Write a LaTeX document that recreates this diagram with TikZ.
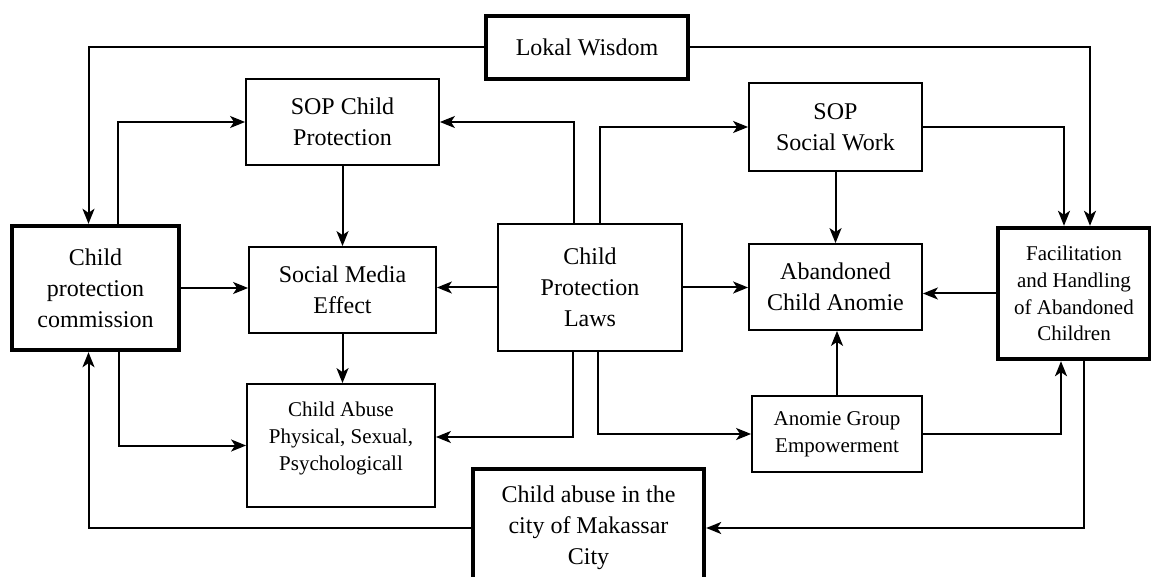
\documentclass[tikz,border=0pt]{standalone}
\usepackage{fontspec}
\setmainfont{Liberation Serif}
\usetikzlibrary{arrows.meta}

\begin{document}
\begin{tikzpicture}[x=0.5pt,y=-0.5pt,
    box/.style={draw,line width=0.9pt,align=center,inner sep=2pt,font=\fontsize{12}{15.5}\selectfont},
    boldbox/.style={box,line width=2.2pt},
    small/.style={font=\fontsize{10.5}{13.4}\selectfont},
    link/.style={line width=1pt,-{Stealth[length=7.5pt,width=6pt,inset=2pt]}}]
    \useasboundingbox (0,0) rectangle (1151,577);

    \node[boldbox, minimum width=101pt, minimum height=31.5pt] at (587,47.5)(wisdom){Lokal Wisdom};
    \node[box, minimum width=96.5pt, minimum height=43pt] at (342.5,122)(sopchild){SOP Child\\Protection};
    \node[boldbox, minimum width=83.5pt, minimum height=62pt] at (95.5,288)(commission){Child\\protection\\commission};
    \node[box, minimum width=93.5pt, minimum height=43pt] at (342.5,290)(media){Social Media\\Effect};
    \node[box, small, text depth=9.5pt, minimum width=94pt, minimum height=61.5pt] at (341,445.5)(abuse){Child Abuse\\Physical, Sexual,\\Psychologicall};
    \node[box, minimum width=92pt, minimum height=63.5pt] at (590,287.5)(laws){Child\\Protection\\Laws};
    \node[box, minimum width=86.5pt, minimum height=44pt] at (835.5,127)(socialwork){SOP\\Social Work};
    \node[box, minimum width=86.5pt, minimum height=43pt] at (835.5,287)(anomie){Abandoned\\Child Anomie};
    \node[box, small, minimum width=85pt, minimum height=38pt] at (837,434)(empower){Anomie Group\\Empowerment};
    \node[boldbox, small, minimum width=76pt, minimum height=65.5pt] at (1074,293.5)(facil){Facilitation\\and Handling\\of Abandoned\\Children};
    \node[boldbox, minimum width=115.5pt, minimum height=59pt] at (588.5,528)(makassar){Child abuse in the\\city of Makassar\\City};

    % local wisdom feeds both sides
    \draw[link] (wisdom.west) -| ([xshift=-3.5pt]commission.north);
    \draw[link] (wisdom.east) -| ([xshift=8pt]facil.north);

    % left part
    \draw[link] ([xshift=11pt]commission.north) |- (sopchild.west);
    \draw[link] (sopchild.south) -- (sopchild.south |- media.north);
    \draw[link] (commission.east) -- (commission.east -| media.west);
    \draw[link] (media.south) -- (media.south |- abuse.north);
    \draw[link] ([xshift=11.5pt]commission.south) |- (abuse.west);

    % from the laws
    \draw[link] (laws.west) -- (laws.west -| media.east);
    \draw[link] ([xshift=-8pt]laws.north) |- (sopchild.east);
    \draw[link] ([xshift=5pt]laws.north) |- (socialwork.west);
    \draw[link] (laws.east) -- (laws.east -| anomie.west);
    \draw[link] ([xshift=-8.5pt]laws.south) |- ([yshift=4.25pt]abuse.east);
    \draw[link] ([xshift=4pt]laws.south) |- (empower.west);

    % right part
    \draw[link] (socialwork.south) -- (socialwork.south |- anomie.north);
    \draw[link] (socialwork.east) -| ([xshift=-5pt]facil.north);
    \draw[link] (facil.west) -- (facil.west -| anomie.east);
    \draw[link] (empower.north) -- (empower.north |- anomie.south);
    \draw[link] (empower.east) -| ([xshift=-6.5pt]facil.south);

    % back round the bottom
    \draw[link] ([xshift=5pt]facil.south) |- (makassar.east);
    \draw[link] (makassar.west) -| ([xshift=-3.5pt]commission.south);
\end{tikzpicture}
\end{document}
